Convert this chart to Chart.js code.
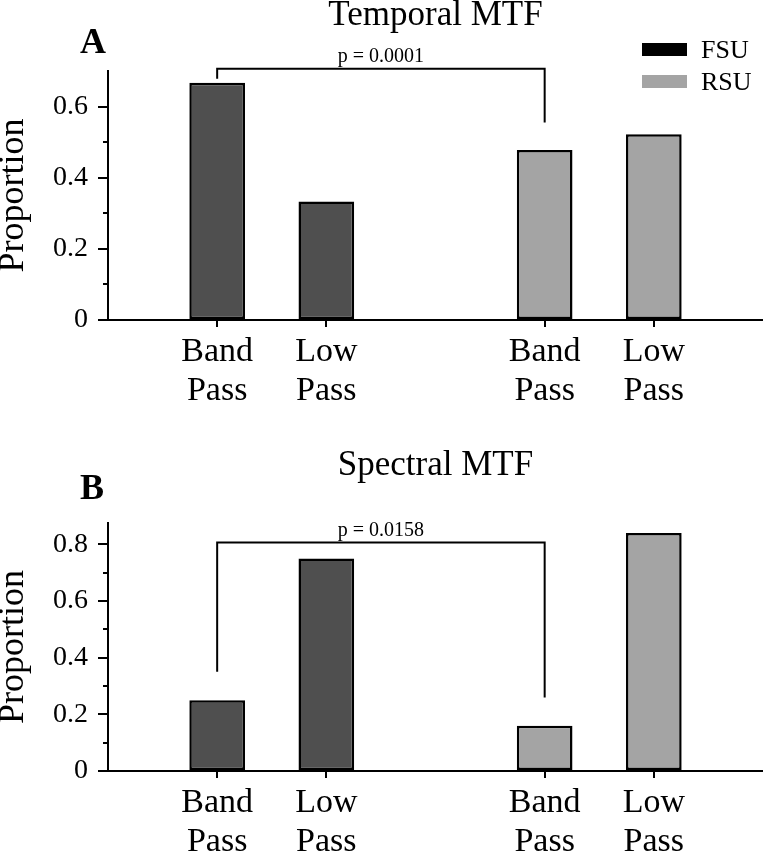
<!DOCTYPE html>
<html>
<head>
<meta charset="utf-8">
<script src="https://cdn.jsdelivr.net/npm/chart.js@4.4.0/dist/chart.umd.min.js"></script>
<style>
  html, body { margin: 0; padding: 0; background: #fff; }
  #wrap { position: relative; width: 763px; height: 853px; overflow: hidden; }
  .panel { position: absolute; left: 0; width: 763px; }
</style>
</head>
<body>
<div id="wrap">
  <div class="panel" style="top:0;height:420px"><canvas id="chartA"></canvas></div>
  <div class="panel" style="top:450px;height:403px"><canvas id="chartB"></canvas></div>
</div>
<script>
// data
const categories = ['', ['Band', 'Pass'], ['Low', 'Pass'], '', ['Band', 'Pass'], ['Low', 'Pass'], ''];
const seriesNames = ['FSU', 'RSU'];
const temporalFSU = [null, 0.667, 0.333, null, null, null, null];
const temporalRSU = [null, null, null, null, 0.478, 0.522, null];
const spectralFSU = [null, 0.25, 0.75, null, null, null, null];
const spectralRSU = [null, null, null, null, 0.16, 0.84, null];
const temporalMajor = [0, 0.2, 0.4, 0.6];
const temporalMinor = [0.1, 0.3, 0.5];
const spectralMajor = [0, 0.2, 0.4, 0.6, 0.8];
const spectralMinor = [0.1, 0.3, 0.5, 0.7];
// significance brackets (category index, heights in proportion units)
const temporalBracket = {from: 1, to: 4, top: 0.706, left: 0.678, right: 0.555, label: 'p = 0.0001'};
const spectralBracket = {from: 1, to: 4, top: 0.806, left: 0.35, right: 0.259, label: 'p = 0.0158'};

const serif = '"Liberation Serif", "Times New Roman", serif';
const barColors = ['#4f4f4f', '#a4a4a4'];
const legendColors = ['#000000', '#a4a4a4'];
const round1 = v => Math.round(v * 10) / 10;

const decor = {
  id: 'decor',
  afterDraw(chart, args, opts) {
    const {ctx, chartArea, scales: {x, y}} = chart;
    ctx.save();
    ctx.strokeStyle = '#000';
    ctx.fillStyle = '#000';
    ctx.lineWidth = 2;

    // minor y ticks
    opts.minor.forEach(v => {
      const py = Math.round(y.getPixelForValue(v));
      ctx.beginPath();
      ctx.moveTo(chartArea.left - 5, py);
      ctx.lineTo(chartArea.left, py);
      ctx.stroke();
    });

    // bracket + p value
    const b = opts.bracket;
    const x1 = x.getPixelForValue(b.from);
    const x2 = x.getPixelForValue(b.to);
    const yt = y.getPixelForValue(b.top);
    ctx.beginPath();
    ctx.moveTo(x1, y.getPixelForValue(b.left));
    ctx.lineTo(x1, yt);
    ctx.lineTo(x2, yt);
    ctx.lineTo(x2, y.getPixelForValue(b.right));
    ctx.stroke();
    ctx.font = '20px ' + serif;
    ctx.textAlign = 'center';
    ctx.textBaseline = 'alphabetic';
    ctx.fillText(b.label, (x1 + x2) / 2, yt - 7);

    // title
    ctx.font = '35px ' + serif;
    ctx.fillText(opts.title, (chartArea.left + chartArea.right) / 2, 25);

    // panel letter
    ctx.font = 'bold 36px ' + serif;
    ctx.textAlign = 'left';
    ctx.fillText(opts.letter, 80, opts.letterY);

    // legend
    if (opts.legend) {
      ctx.font = '26px ' + serif;
      chart.data.datasets.forEach((ds, i) => {
        ctx.fillStyle = legendColors[i];
        ctx.fillRect(642, 43 + i * 32, 45, 13);
        ctx.fillStyle = '#000';
        ctx.fillText(ds.label, 701, 58 + i * 32);
      });
    }
    ctx.restore();
  }
};

function makeChart(id, opt) {
  return new Chart(document.getElementById(id), {
    type: 'bar',
    data: {
      labels: categories,
      datasets: seriesNames.map((name, i) => ({
        label: name,
        data: i === 0 ? opt.fsu : opt.rsu,
        backgroundColor: barColors[i],
        borderColor: '#000',
        borderWidth: 2.5,
        borderSkipped: false,
        grouped: false,
        categoryPercentage: 1,
        barPercentage: 0.51
      }))
    },
    options: {
      responsive: true,
      maintainAspectRatio: false,
      animation: false,
      layout: {padding: {top: opt.top, left: 0, right: 0, bottom: 0}},
      plugins: {
        legend: {display: false},
        tooltip: {enabled: false},
        decor: {
          title: opt.title, letter: opt.letter, letterY: opt.letterY,
          minor: opt.minor, bracket: opt.bracket, legend: opt.legend
        }
      },
      scales: {
        x: {
          offset: false,
          grid: {
            offset: false,
            drawOnChartArea: false,
            tickLength: 7,
            lineWidth: 2,
            tickColor: c => categories[c.index] ? '#000' : 'rgba(0,0,0,0)'
          },
          border: {color: '#000', width: 2},
          ticks: {
            autoSkip: false,
            maxRotation: 0,
            padding: 6,
            color: '#000',
            font: {family: serif, size: 34, lineHeight: 1.13}
          },
          afterFit: s => {
            s.height = opt.xHeight;
            s.paddingLeft = 0;
            s.paddingRight = 0;
          }
        },
        y: {
          min: 0,
          max: opt.max,
          afterBuildTicks: s => { s.ticks = opt.major.map(v => ({value: v})); },
          grid: {
            drawOnChartArea: false,
            tickLength: 10,
            lineWidth: 2,
            tickColor: '#000'
          },
          border: {color: '#000', width: 2},
          ticks: {
            padding: 10,
            color: '#000',
            font: {family: serif, size: 28},
            callback: v => String(round1(v))
          },
          title: {
            display: true,
            text: 'Proportion',
            color: '#000',
            padding: 0,
            font: {family: serif, size: 36, lineHeight: 0.745}
          },
          afterFit: s => { s.width = 108; }
        }
      }
    },
    plugins: [decor]
  });
}

makeChart('chartA', {
  fsu: temporalFSU, rsu: temporalRSU, max: 0.7,
  major: temporalMajor, minor: temporalMinor, bracket: temporalBracket,
  title: 'Temporal MTF', letter: 'A', letterY: 53, legend: true,
  top: 71, xHeight: 100
});

makeChart('chartB', {
  fsu: spectralFSU, rsu: spectralRSU, max: 0.875,
  major: spectralMajor, minor: spectralMinor, bracket: spectralBracket,
  title: 'Spectral MTF', letter: 'B', letterY: 49, legend: false,
  top: 73, xHeight: 82
});
</script>
</body>
</html>
